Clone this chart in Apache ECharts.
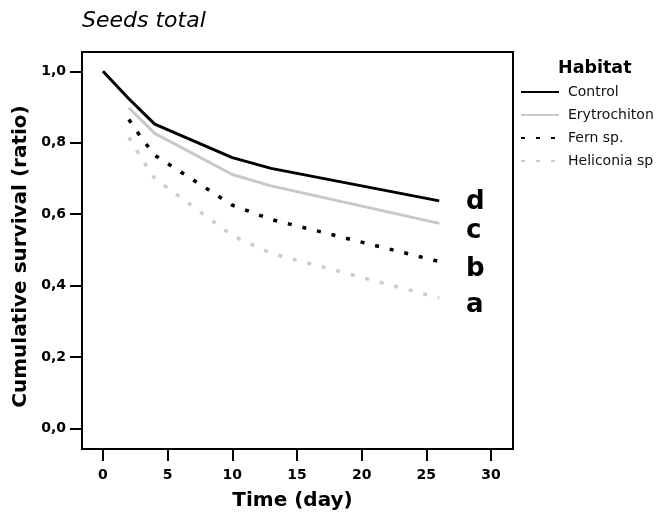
<!DOCTYPE html>
<html>
<head>
<meta charset="utf-8">
<script src="https://cdn.jsdelivr.net/npm/echarts@6/dist/echarts.min.js"></script>
<style>html,body{margin:0;padding:0;background:#fff}#c{width:659px;height:517px}</style>
</head>
<body>
<div id="c"></div>
<script>
const seriesNames = ['Control', 'Erytrochiton', 'Fern sp.', 'Heliconia sp'];
const controlDays = [0, 2, 4, 10, 13, 26];
const controlValues = [1.0, 0.923, 0.852, 0.758, 0.728, 0.637];
const erytrochitonDays = [2, 4, 10, 13, 26];
const erytrochitonValues = [0.898, 0.826, 0.711, 0.679, 0.574];
const fernDays = [2, 3, 4, 10, 13, 26];
const fernValues = [0.865, 0.812, 0.765, 0.625, 0.585, 0.467];
const heliconiaDays = [2, 3, 4, 10, 13, 26];
const heliconiaValues = [0.815, 0.755, 0.700, 0.540, 0.490, 0.365];
const xTicks = [0, 5, 10, 15, 20, 25, 30];
const yTicks = [0, 0.2, 0.4, 0.6, 0.8, 1.0];
const groupLetters = ['d', 'c', 'b', 'a'];

function pairs(d, v) { return d.map((x, i) => [x, v[i]]); }

const chart = echarts.init(document.getElementById('c'), null, {renderer: 'canvas'});
const bold = 'DejaVu Sans';
const styles = [
  {color: '#000000', width: 3, type: 'solid'},
  {color: '#c8c8c8', width: 3, type: 'solid'},
  {color: '#000000', width: 3.5, type: [4, 11]},
  {color: '#cccccc', width: 3.5, type: [4, 11]}
];
const dataSets = [
  pairs(controlDays, controlValues),
  pairs(erytrochitonDays, erytrochitonValues),
  pairs(fernDays, fernValues),
  pairs(heliconiaDays, heliconiaValues)
];
const letterY = [202.7, 231.3, 269.2, 305.5];

chart.setOption({
  animation: false,
  backgroundColor: '#ffffff',
  title: {
    text: 'Seeds total', left: 77, top: 5,
    textStyle: {fontFamily: 'DejaVu Sans', fontStyle: 'italic', fontWeight: 'normal', fontSize: 22, color: '#000'}
  },
  grid: {left: 82, top: 52, width: 431, height: 397, show: true, borderColor: '#000', borderWidth: 2, containLabel: false},
  legend: {
    orient: 'vertical', left: 520, top: 85, padding: 0,
    itemWidth: 38, itemHeight: 14, itemGap: 9,
    data: seriesNames,
    itemStyle: {opacity: 0},
    textStyle: {fontFamily: 'DejaVu Sans', fontSize: 14, color: '#111', padding: [0, 0, 0, 4]}
  },
  xAxis: {
    type: 'value', min: -1.62, max: 31.7,
    name: 'Time (day)', nameLocation: 'middle', nameGap: 42,
    nameTextStyle: {fontFamily: bold, fontWeight: 'bold', fontSize: 20, color: '#000', padding: [0, 10, 0, 0]},
    axisLine: {show: true, onZero: false, lineStyle: {color: '#000', width: 2}},
    axisTick: {show: true, inside: false, length: 12, customValues: xTicks, lineStyle: {color: '#000', width: 2}},
    axisLabel: {customValues: xTicks, margin: 19, fontFamily: bold, fontWeight: 'bold', fontSize: 14, color: '#000'},
    splitLine: {show: false}
  },
  yAxis: {
    type: 'value', min: -0.058, max: 1.054,
    name: 'Cumulative survival (ratio)', nameLocation: 'middle', nameGap: 44,
    nameTextStyle: {fontFamily: bold, fontWeight: 'bold', fontSize: 20, color: '#000', padding: [0, 12, 0, 0]},
    axisLine: {show: true, onZero: false, lineStyle: {color: '#000', width: 2}},
    axisTick: {show: true, inside: false, length: 12, customValues: yTicks, lineStyle: {color: '#000', width: 2}},
    axisLabel: {customValues: yTicks, margin: 16, fontFamily: bold, fontWeight: 'bold', fontSize: 14, color: '#000',
      formatter: v => v.toFixed(1).replace('.', ',')},
    splitLine: {show: false}
  },
  graphic: [
    {type: 'text', left: 558, top: 59, style: {text: 'Habitat', fontFamily: bold, fontWeight: 'bold', fontSize: 17.5, fill: '#000'}}
  ].concat(groupLetters.map((t, i) => ({
    type: 'text', x: 466, y: letterY[i],
    style: {text: t, fontFamily: bold, fontWeight: 'bold', fontSize: 26, fill: '#000', verticalAlign: 'middle', align: 'left'}
  }))),
  series: seriesNames.map((n, i) => ({
    name: n, type: 'line', data: dataSets[i], symbol: 'none', smooth: false,
    lineStyle: {color: styles[i].color, width: styles[i].width, type: styles[i].type, cap: 'butt'},
    itemStyle: {color: styles[i].color},
    z: 10 - i
  }))
});
</script>
</body>
</html>
